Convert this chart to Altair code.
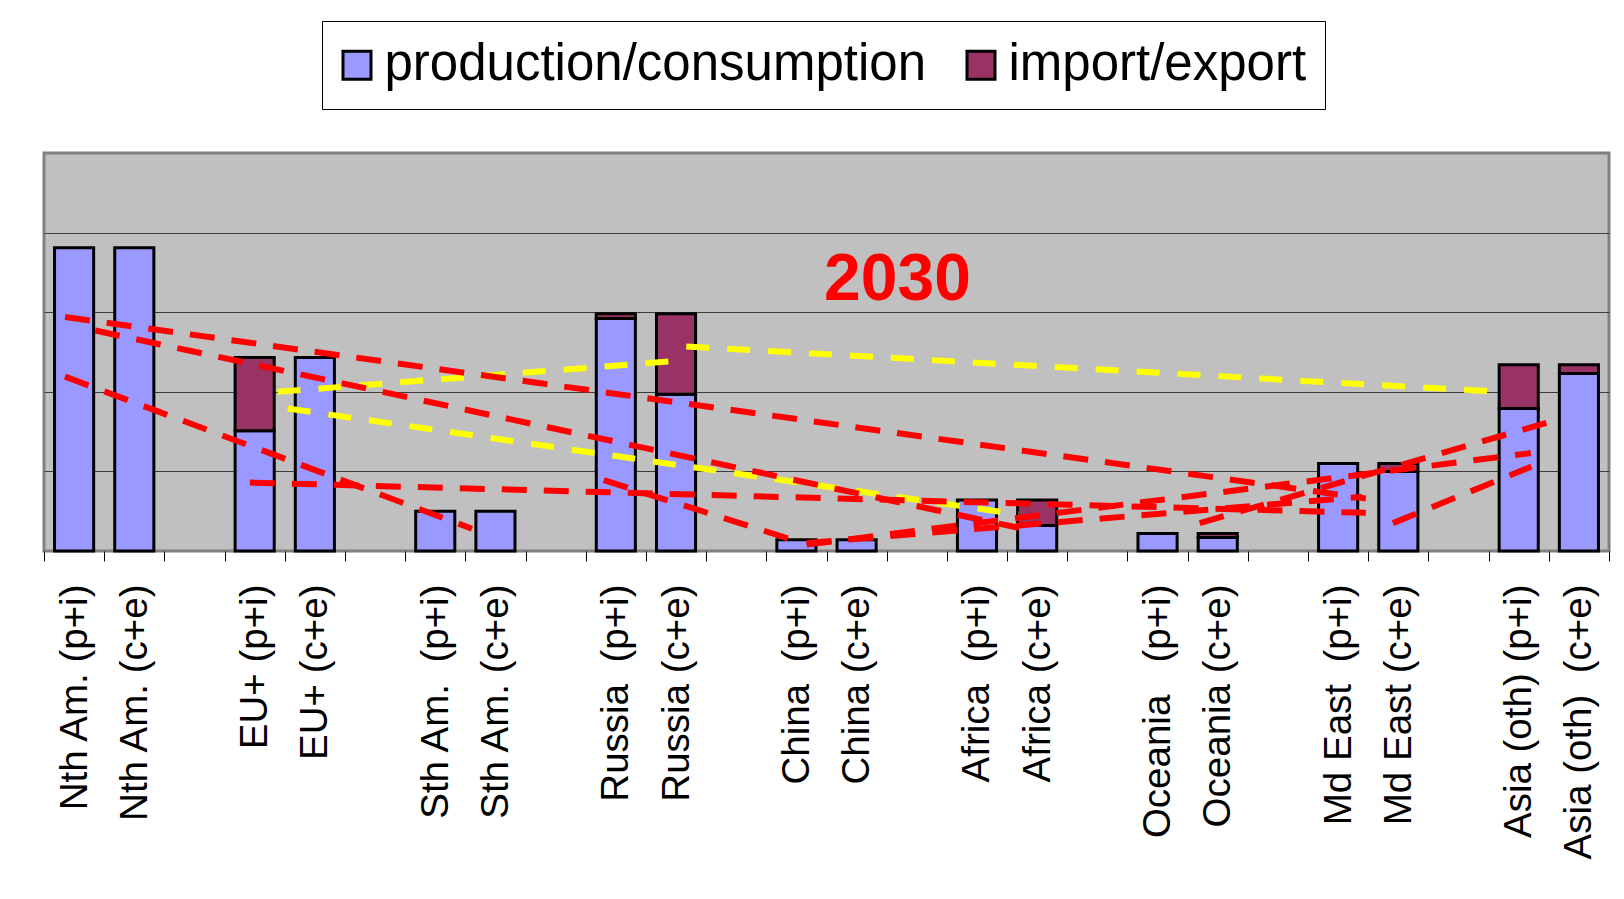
import json
import altair as alt
import pandas as pd

# ---- categories (26 slots on the x axis, gaps are blank) ----
slots = [
    "Nth Am. (p+i)", "Nth Am. (c+e)", "gap1",
    "EU+ (p+i)", "EU+ (c+e)", "gap2",
    "Sth Am.\u00a0\u00a0(p+i)", "Sth Am. (c+e)", "gap3",
    "Russia\u00a0\u00a0(p+i)", "Russia (c+e)", "gap4",
    "China\u00a0\u00a0(p+i)", "China (c+e)", "gap5",
    "Africa\u00a0\u00a0(p+i)", "Africa (c+e)", "gap6",
    "Oceania\u00a0\u00a0\u00a0(p+i)", "Oceania (c+e)", "gap7",
    "Md East\u00a0\u00a0(p+i)", "Md East (c+e)", "gap8",
    "Asia (oth) (p+i)", "Asia (oth)\u00a0\u00a0(c+e)",
]
bar_slots = [i for i, s in enumerate(slots) if not s.startswith("gap")]

# ---- series values (gridline = 100) ----
prod_cons = [381, 381, 151, 243, 50, 50, 292, 197, 14, 14, 64, 32, 22, 17, 110, 100, 179, 223]
imp_exp = [0, 0, 92, 0, 0, 0, 6, 101, 0, 0, 0, 32, 0, 5, 0, 10, 55, 11]
kinds = ["production/consumption", "import/export"]

# ---- trade-flow dashed lines (x in slot units, y in value units) ----
red_x1 = [0.35, 0.85, 0.35, 3.42, 9.30, 12.67, 12.67, 19.20, 22.41]
red_y1 = [294, 277, 219, 86, 89, 8, 10, 35, 35]
red_x2 = [21.96, 16.20, 7.11, 21.96, 12.44, 24.70, 21.90, 24.96, 24.71]
red_y2 = [66, 29, 28, 48, 14, 123, 68, 161, 106]

yel_x1 = [3.88, 10.67, 4.05]
yel_y1 = [200, 257, 179]
yel_x2 = [10.38, 24.19, 16.19]
yel_y2 = [238, 200, 46]

year_label = ["2030"]
year_x = [14.18]
year_y = [315]

rows = []
for s, p, t in zip(bar_slots, prod_cons, imp_exp):
    rows.append({"slot": s, "kind": kinds[0], "lo": 0, "hi": p})
    if t > 0:
        rows.append({"slot": s, "kind": kinds[1], "lo": p, "hi": p + t})
bars_df = pd.DataFrame(rows)
red_df = pd.DataFrame({"x1": red_x1, "y1": red_y1, "x2": red_x2, "y2": red_y2})
yel_df = pd.DataFrame({"x1": yel_x1, "y1": yel_y1, "x2": yel_x2, "y2": yel_y2})
txt_df = pd.DataFrame({"tx": year_x, "ty": year_y, "label": year_label})

W, H = 1565, 398
N = len(slots)
yscale = alt.Scale(domain=[0, 500], nice=False, zero=True)
xq = alt.Scale(domain=[0, N], nice=False, zero=False)
FONT = "Liberation Sans"

label_names = ["" if s.startswith("gap") else s for s in slots] + [""]
label_expr = json.dumps(label_names, ensure_ascii=False) + "[round(datum.value)]"
last_test = "datum.value >= %d" % N

bars = alt.Chart(bars_df).transform_calculate(
    xa="datum.slot + 0.175", xb="datum.slot + 0.825"
).mark_rect(stroke="black", strokeWidth=3, opacity=1).encode(
    x=alt.X(
        "xa:Q", scale=xq,
        axis=alt.Axis(
            orient="bottom", title=None, values=list(range(N + 1)),
            labelAngle=-90, labelFont=FONT,
            labelFontSize={"condition": {"test": last_test, "value": 0},
                           "value": 38.5},
            labelOffset={"condition": {"test": last_test, "value": -W / N / 2},
                         "value": W / N / 2},
            labelColor="black", labelPadding=23,
            tickSize=10, tickColor="black", tickWidth=1,
            domain=False, grid=False, labelLimit=500, labelOverlap=False,
            labelExpr=label_expr,
        ),
    ),
    x2="xb:Q",
    y=alt.Y(
        "lo:Q", scale=yscale,
        axis=alt.Axis(title=None, labels=False, ticks=False, domain=False,
                      grid=True, values=[100, 200, 300, 400],
                      gridColor="#3c3c3c", gridWidth=1.2),
    ),
    y2="hi:Q",
    color=alt.Color(
        "kind:N",
        scale=alt.Scale(domain=kinds, range=["#9999FF", "#993366"]),
        legend=alt.Legend(
            title=None, orient="none", legendX=278, legendY=-132,
            direction="horizontal", symbolType="square", symbolSize=784,
            symbolStrokeColor="black", symbolStrokeWidth=3, symbolOpacity=1,
            symbolOffset=-9,
            labelFont=FONT, labelFontSize=51, labelColor="black",
            labelOffset=2, columnPadding=34, padding=18.5,
            strokeColor="black", fillColor="white", labelLimit=800,
        ),
    ),
)

yellow = alt.Chart(yel_df).mark_rule(
    color="#FFFF00", strokeWidth=6, strokeDash=[23, 18]
).encode(
    x=alt.X("x1:Q", scale=xq), x2="x2:Q",
    y=alt.Y("y1:Q", scale=yscale), y2="y2:Q",
)

red = alt.Chart(red_df).mark_rule(
    color="#FF0000", strokeWidth=6, strokeDash=[25, 17]
).encode(
    x=alt.X("x1:Q", scale=xq), x2="x2:Q",
    y=alt.Y("y1:Q", scale=yscale), y2="y2:Q",
)

txt = alt.Chart(txt_df).mark_text(
    font=FONT, fontSize=66, fontWeight="bold", color="#FF0000",
    align="center", baseline="alphabetic",
).encode(
    x=alt.X("tx:Q", scale=xq),
    y=alt.Y("ty:Q", scale=yscale),
    text="label:N",
)

chart = alt.layer(bars, yellow, red, txt).properties(
    width=W, height=H,
    padding={"left": 35, "top": 12, "right": 5, "bottom": 5},
).configure_view(
    fill="#C0C0C0", stroke="#808080", strokeWidth=3
)

chart.save("out.html", embed_options={"renderer": "svg", "actions": False})
